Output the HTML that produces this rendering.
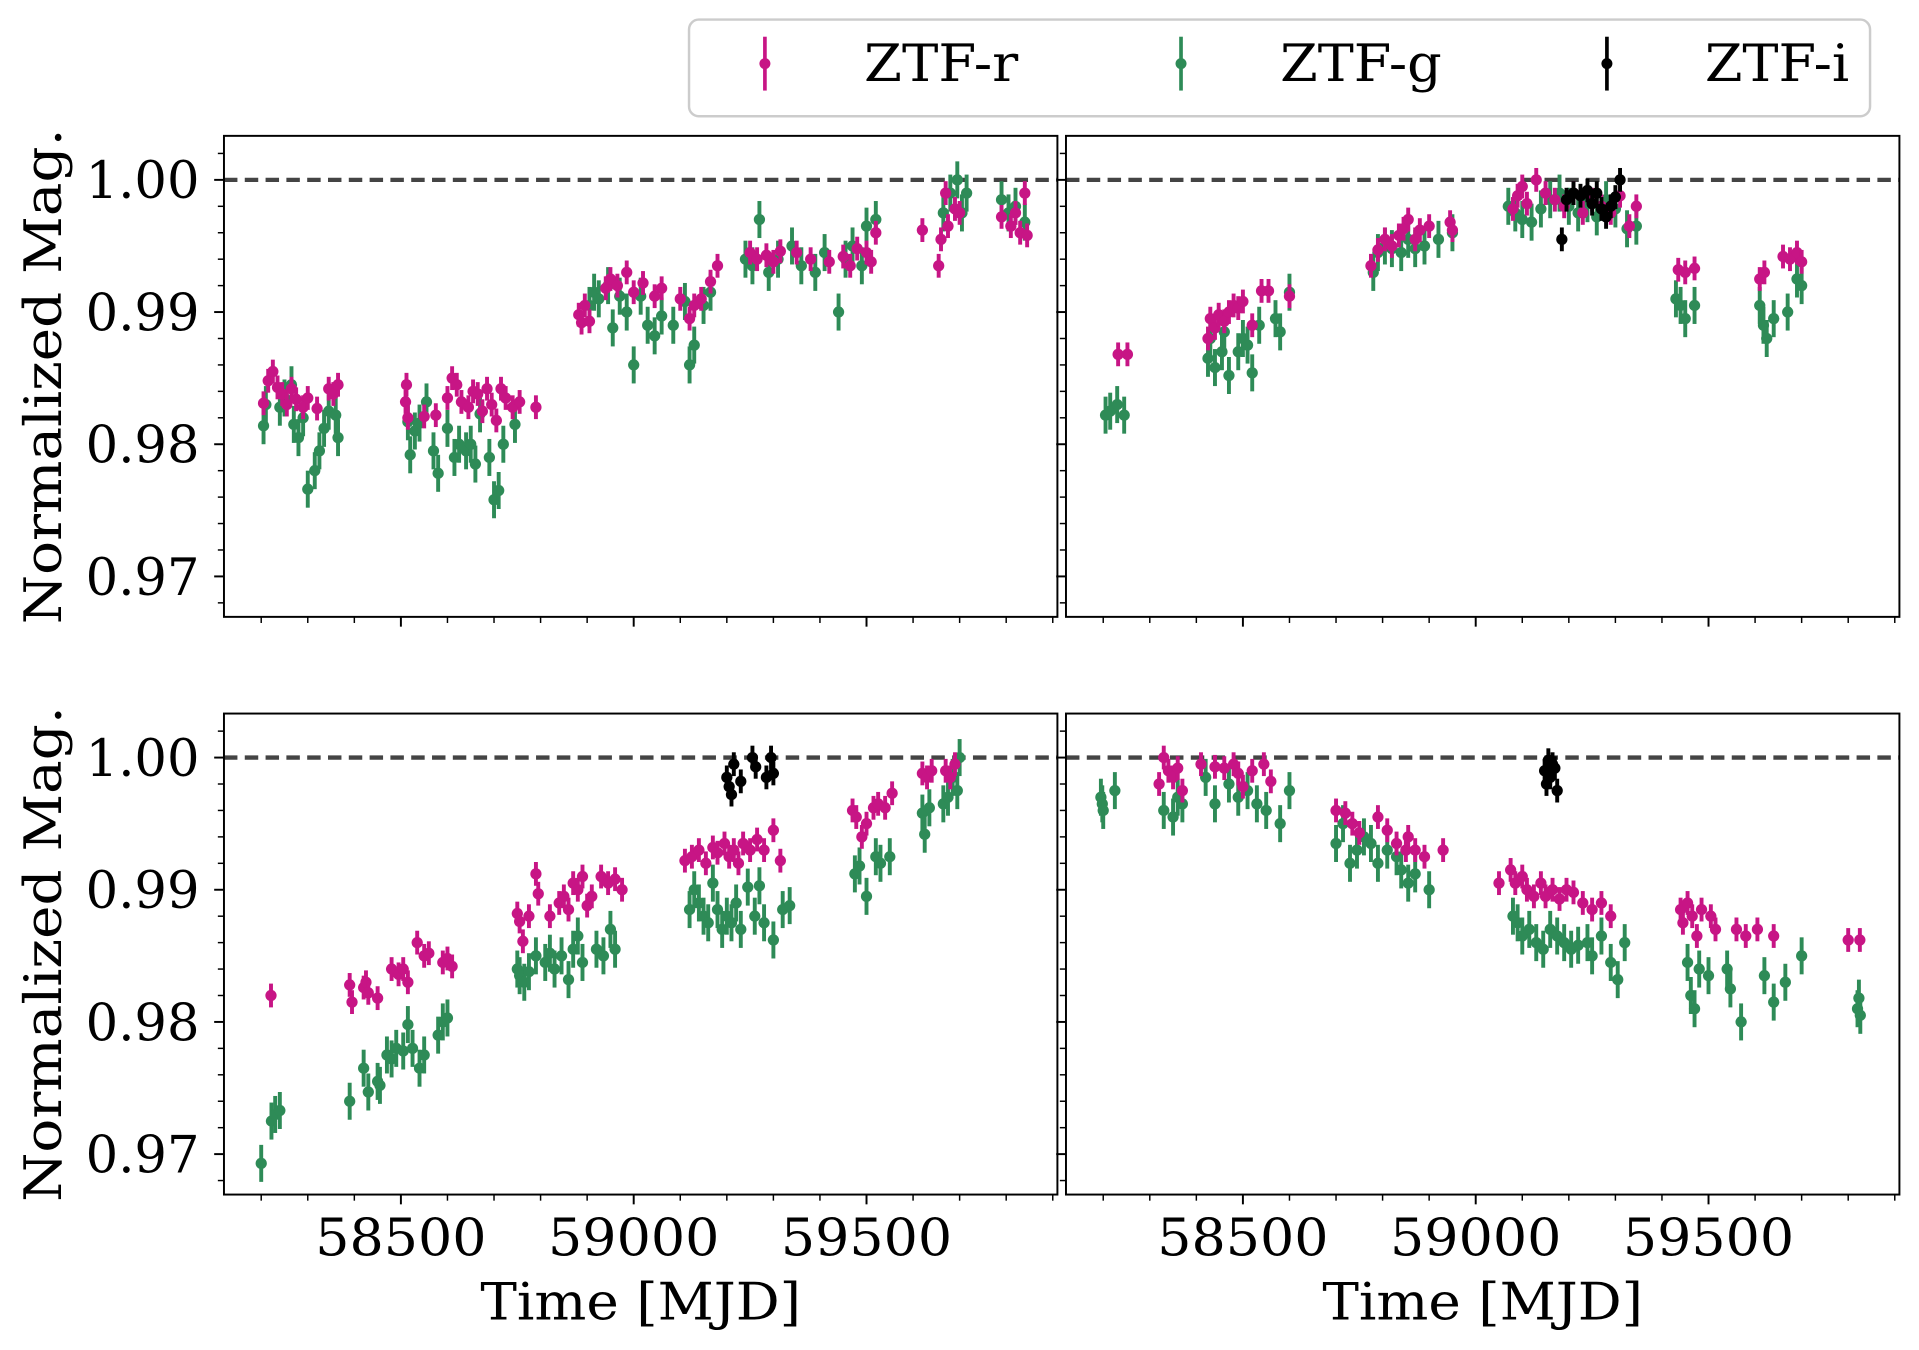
<!DOCTYPE html>
<html><head><meta charset="utf-8"><style>
html,body{margin:0;padding:0;background:#fff;}
svg{display:block;}
text{font-family:"DejaVu Serif","Liberation Serif",serif;fill:#000;}
</style></head><body>
<svg id="fig" width="1919" height="1350" viewBox="0 0 1568 1103" preserveAspectRatio="none" xmlns="http://www.w3.org/2000/svg">
<g id="legend">
<rect x="563" y="16" width="965" height="79" rx="8" fill="#fff" stroke="#cccccc" stroke-width="2"/>
<g>
<line x1="625" y1="30" x2="625" y2="74" stroke="#c71585" stroke-width="3"/><circle cx="625" cy="52" r="4.5" fill="#c71585"/>
<text x="706" y="66" font-size="42" textLength="126" lengthAdjust="spacingAndGlyphs">ZTF-r</text></g>
<g>
<line x1="965" y1="30" x2="965" y2="74" stroke="#2e8b57" stroke-width="3"/><circle cx="965" cy="52" r="4.5" fill="#2e8b57"/>
<text x="1046" y="66" font-size="42" textLength="132" lengthAdjust="spacingAndGlyphs">ZTF-g</text></g>
<g>
<line x1="1313" y1="30" x2="1313" y2="74" stroke="#000" stroke-width="3"/><circle cx="1313" cy="52" r="4.5" fill="#000"/>
<text x="1393" y="66" font-size="42" textLength="118" lengthAdjust="spacingAndGlyphs">ZTF-i</text></g>
</g>
</svg>
<script>
// ---- data (MJD, normalized magnitude) ----
const aR=[[58205,0.9831],[58215,0.9848],[58225,0.9855],[58235,0.9843],[58245,0.9838],[58255,0.9830],[58265,0.9842],[58275,0.9834],[58290,0.9828],[58300,0.9835],[58320,0.9827],[58345,0.9842],[58355,0.9838],[58365,0.9845],
[58510,0.9832],[58512,0.9845],[58515,0.9820],[58550,0.9821],[58575,0.9822],[58600,0.9835],[58610,0.9850],[58620,0.9845],[58630,0.9832],[58645,0.9828],[58655,0.9840],[58665,0.9838],[58675,0.9825],[58685,0.9842],[58695,0.9830],[58705,0.9818],[58715,0.9842],[58725,0.9835],[58740,0.9828],[58755,0.9832],[58790,0.9828],
[58882,0.9898],[58888,0.9892],[58895,0.9905],[58905,0.9893],[58940,0.9918],[58950,0.9925],[58965,0.9920],[58985,0.9930],[59000,0.9915],[59020,0.9922],[59045,0.9912],[59060,0.9918],[59100,0.9910],[59120,0.9895],[59130,0.9905],[59145,0.9910],[59165,0.9923],[59180,0.9935],
[59250,0.9945],[59265,0.9940],[59285,0.9943],[59300,0.9938],[59315,0.9946],[59350,0.9945],[59380,0.9940],[59420,0.9938],[59450,0.9942],[59465,0.9935],[59480,0.9948],[59500,0.9945],[59510,0.9938],[59520,0.9960],
[59620,0.9962],[59655,0.9935],[59660,0.9955],[59670,0.9990],[59675,0.9965],[59690,0.9978],[59700,0.9975],[59790,0.9972],[59810,0.9965],[59820,0.9975],[59830,0.9960],[59840,0.9990],[59845,0.9958]];
const aG=[[58205,0.9814],[58210,0.9830],[58240,0.9828],[58250,0.9835],[58265,0.9845],[58270,0.9815],[58280,0.9805],[58290,0.9820],[58300,0.9766],[58315,0.9780],[58325,0.9795],[58335,0.9812],[58345,0.9825],[58360,0.9822],[58365,0.9805],
[58515,0.9817],[58520,0.9792],[58530,0.9810],[58540,0.9816],[58555,0.9832],[58570,0.9795],[58580,0.9778],[58600,0.9812],[58615,0.9790],[58625,0.9800],[58640,0.9795],[58650,0.9800],[58660,0.9785],[58670,0.9823],[58690,0.9790],[58700,0.9758],[58710,0.9765],[58720,0.9800],[58745,0.9815],
[58905,0.9905],[58915,0.9915],[58925,0.9910],[58945,0.9920],[58955,0.9888],[58970,0.9912],[58985,0.9900],[59000,0.9860],[59015,0.9912],[59030,0.9890],[59045,0.9882],[59060,0.9897],[59085,0.9890],[59110,0.9908],[59120,0.9860],[59130,0.9875],[59150,0.9905],[59165,0.9915],
[59240,0.9940],[59255,0.9935],[59270,0.9970],[59290,0.9930],[59310,0.9940],[59340,0.9950],[59360,0.9935],[59390,0.9930],[59410,0.9945],[59440,0.9900],[59455,0.9940],[59470,0.9950],[59490,0.9935],[59500,0.9965],[59520,0.9970],
[59665,0.9975],[59680,0.9990],[59695,1.0000],[59705,0.9975],[59715,0.9990],[59790,0.9985],[59805,0.9975],[59820,0.9980],[59840,0.9968]];
const aI=[];
const bR=[[58232,0.9868],[58252,0.9868],[58425,0.9880],[58430,0.9895],[58440,0.9888],[58448,0.9898],[58460,0.9893],[58470,0.9900],[58480,0.9905],[58490,0.9903],[58500,0.9908],[58520,0.9890],[58540,0.9916],[58555,0.9916],[58600,0.9912],
[58775,0.9935],[58790,0.9947],[58805,0.9955],[58820,0.9950],[58835,0.9958],[58845,0.9963],[58855,0.9970],[58870,0.9955],[58880,0.9962],[58900,0.9965],[58945,0.9968],[58950,0.9962],
[59080,0.9978],[59090,0.9988],[59100,0.9995],[59110,0.9982],[59130,1.0000],[59150,0.9990],[59170,0.9985],[59190,0.9980],[59210,0.9990],[59230,0.9975],[59250,0.9985],[59270,0.9980],[59290,0.9975],[59310,0.9988],[59330,0.9965],[59345,0.9980],
[59435,0.9932],[59450,0.9930],[59470,0.9933],[59610,0.9925],[59620,0.9930],[59660,0.9942],[59675,0.9940],[59690,0.9945],[59700,0.9938]];
const bG=[[58205,0.9822],[58215,0.9825],[58230,0.9830],[58245,0.9822],[58425,0.9865],[58430,0.9880],[58440,0.9858],[58455,0.9870],[58460,0.9885],[58470,0.9852],[58490,0.9870],[58500,0.9880],[58510,0.9875],[58520,0.9854],[58535,0.9890],[58570,0.9895],[58580,0.9885],[58600,0.9915],
[58780,0.9930],[58790,0.9945],[58805,0.9950],[58820,0.9948],[58840,0.9945],[58855,0.9955],[58870,0.9948],[58890,0.9950],[58920,0.9955],[58950,0.9960],
[59070,0.9980],[59085,0.9975],[59100,0.9970],[59120,0.9968],[59140,0.9978],[59160,0.9985],[59180,0.9990],[59200,0.9980],[59220,0.9975],[59240,0.9982],[59260,0.9972],[59280,0.9985],[59300,0.9978],[59325,0.9963],[59345,0.9965],
[59430,0.9910],[59440,0.9905],[59450,0.9895],[59470,0.9905],[59610,0.9905],[59618,0.9890],[59625,0.9880],[59640,0.9895],[59670,0.9900],[59690,0.9925],[59700,0.9920]];
const bI=[[59185,0.9955],[59195,0.9985],[59210,0.9990],[59225,0.9988],[59240,0.9992],[59250,0.9982],[59260,0.9990],[59270,0.9978],[59280,0.9972],[59290,0.9980],[59300,0.9987],[59310,1.0000]];
const cR=[[58221,0.9820],[58390,0.9828],[58395,0.9815],[58420,0.9826],[58425,0.9830],[58430,0.9822],[58450,0.9818],[58480,0.9840],[58495,0.9836],[58505,0.9840],[58515,0.9830],[58535,0.9860],[58550,0.9850],[58560,0.9852],[58590,0.9845],[58600,0.9848],[58610,0.9842],
[58750,0.9882],[58755,0.9876],[58762,0.9861],[58775,0.9880],[58790,0.9912],[58795,0.9897],[58820,0.9880],[58840,0.9890],[58850,0.9895],[58860,0.9885],[58870,0.9905],[58880,0.9900],[58890,0.9910],[58900,0.9888],[58910,0.9895],[58930,0.9910],[58945,0.9905],[58960,0.9908],[58975,0.9900],
[59110,0.9922],[59125,0.9925],[59140,0.9930],[59155,0.9920],[59170,0.9932],[59180,0.9928],[59195,0.9935],[59205,0.9925],[59215,0.9930],[59225,0.9920],[59235,0.9935],[59250,0.9930],[59265,0.9938],[59280,0.9930],[59300,0.9945],[59315,0.9922],
[59470,0.9960],[59478,0.9955],[59490,0.9940],[59500,0.9950],[59515,0.9962],[59525,0.9965],[59540,0.9962],[59555,0.9973],[59620,0.9988],[59630,0.9985],[59640,0.9990],[59670,0.9990],[59680,0.9985],[59690,0.9995]];
const cG=[[58200,0.9693],[58222,0.9725],[58230,0.9730],[58240,0.9733],[58390,0.9740],[58420,0.9765],[58430,0.9747],[58450,0.9755],[58455,0.9752],[58470,0.9775],[58480,0.9772],[58490,0.9780],[58505,0.9778],[58515,0.9798],[58525,0.9780],[58540,0.9765],[58550,0.9775],[58580,0.9790],[58590,0.9800],[58600,0.9803],
[58750,0.9840],[58755,0.9835],[58765,0.9830],[58775,0.9838],[58790,0.9850],[58810,0.9845],[58820,0.9852],[58830,0.9840],[58845,0.9850],[58860,0.9832],[58870,0.9855],[58880,0.9865],[58890,0.9845],[58920,0.9855],[58935,0.9850],[58950,0.9870],[58960,0.9855],
[59120,0.9885],[59130,0.9900],[59140,0.9890],[59150,0.9880],[59160,0.9875],[59170,0.9905],[59180,0.9885],[59190,0.9870],[59200,0.9880],[59210,0.9875],[59220,0.9890],[59230,0.9870],[59245,0.9902],[59260,0.9880],[59270,0.9903],[59280,0.9875],[59300,0.9862],[59320,0.9885],[59335,0.9888],
[59475,0.9912],[59485,0.9918],[59500,0.9895],[59520,0.9925],[59530,0.9920],[59550,0.9925],[59620,0.9958],[59625,0.9942],[59635,0.9962],[59665,0.9965],[59675,0.9970],[59685,0.9985],[59695,0.9975],[59700,1.0000]];
const cI=[[59200,0.9985],[59205,0.9978],[59210,0.9972],[59215,0.9995],[59230,0.9982],[59255,1.0000],[59262,0.9993],[59285,0.9985],[59295,1.0000],[59300,0.9988]];
const dR=[[58320,0.9980],[58330,1.0000],[58340,0.9990],[58350,0.9985],[58360,0.9992],[58370,0.9975],[58410,0.9995],[58440,0.9993],[58460,0.9992],[58480,0.9995],[58490,0.9988],[58500,0.9978],[58520,0.9990],[58545,0.9995],[58560,0.9982],
[58700,0.9960],[58720,0.9958],[58735,0.9950],[58750,0.9943],[58790,0.9955],[58810,0.9945],[58830,0.9935],[58850,0.9930],[58855,0.9940],[58870,0.9930],[58890,0.9925],[58930,0.9930],
[59050,0.9905],[59075,0.9915],[59085,0.9905],[59100,0.9910],[59110,0.9900],[59125,0.9895],[59140,0.9905],[59150,0.9895],[59165,0.9900],[59180,0.9893],[59195,0.9900],[59210,0.9898],[59230,0.9890],[59250,0.9885],[59270,0.9890],[59290,0.9880],
[59440,0.9885],[59445,0.9875],[59455,0.9890],[59465,0.9880],[59475,0.9865],[59485,0.9885],[59505,0.9880],[59515,0.9870],[59560,0.9870],[59580,0.9865],[59605,0.9870],[59640,0.9865],[59800,0.9862],[59825,0.9862]];
const dG=[[58195,0.9970],[58198,0.9965],[58200,0.9960],[58225,0.9975],[58330,0.9960],[58350,0.9955],[58360,0.9970],[58370,0.9965],[58420,0.9985],[58440,0.9965],[58470,0.9980],[58490,0.9970],[58510,0.9975],[58530,0.9965],[58550,0.9960],[58580,0.9950],[58600,0.9975],
[58700,0.9935],[58715,0.9950],[58730,0.9920],[58745,0.9930],[58760,0.9940],[58775,0.9935],[58790,0.9920],[58810,0.9930],[58830,0.9925],[58840,0.9915],[58855,0.9905],[58870,0.9912],[58900,0.9900],
[59080,0.9880],[59090,0.9875],[59100,0.9865],[59115,0.9870],[59130,0.9860],[59145,0.9855],[59160,0.9870],[59175,0.9865],[59190,0.9860],[59205,0.9855],[59220,0.9858],[59240,0.9860],[59250,0.9850],[59270,0.9865],[59290,0.9845],[59305,0.9832],[59320,0.9860],
[59455,0.9845],[59462,0.9820],[59470,0.9810],[59480,0.9840],[59500,0.9835],[59540,0.9840],[59547,0.9825],[59570,0.9800],[59620,0.9835],[59640,0.9815],[59665,0.9830],[59700,0.9850],[59820,0.9810],[59823,0.9818],[59826,0.9805]];
const dI=[[59148,0.9990],[59152,0.9980],[59156,0.9998],[59160,0.9985],[59165,0.9995],[59170,0.9992],[59175,0.9975]];
const xTicks=[58500,59000,59500];
const yTicks=[0.97,0.98,0.99,1.00];
const yTickLabels=["0.97","0.98","0.99","1.00"];
const errR=0.0009, errG=0.0014, errI=0.0009;

const NS="http://www.w3.org/2000/svg";
const svg=document.getElementById('fig');
function mk(tag,attrs,parent){const e=document.createElementNS(NS,tag);for(const k in attrs)e.setAttribute(k,attrs[k]);(parent||svg).appendChild(e);return e;}
const X0=58120,X1=59910,Y0=0.96694,Y1=1.00333;
const panels=[
 {name:'top-left',x0:183,x1:864,y0:111,y1:504,r:aR,g:aG,i:aI,ylab:true,xlab:false},
 {name:'top-right',x0:871,x1:1552,y0:111,y1:504,r:bR,g:bG,i:bI,ylab:false,xlab:false},
 {name:'bottom-left',x0:183,x1:864,y0:583,y1:976,r:cR,g:cG,i:cI,ylab:true,xlab:true},
 {name:'bottom-right',x0:871,x1:1552,y0:583,y1:976,r:dR,g:dG,i:dI,ylab:false,xlab:true}];
panels.forEach(p=>{
 const sx=v=>p.x0+(v-X0)/(X1-X0)*(p.x1-p.x0);
 const sy=v=>p.y1-(v-Y0)/(Y1-Y0)*(p.y1-p.y0);
 const g=mk('g',{});
 
 
 for(let m=58200;m<=59900;m+=100){const x=sx(m);const major=(m%500===0);
  const t=mk('line',{x1:x,x2:x,y1:p.y1,y2:p.y1+(major?8:5),stroke:'#000','stroke-width':major?1.6:1.2},g);
  
  }
 for(let k=0;k<=18;k++){const v=0.968+k*0.002;const y=sy(v);if(y<p.y0||y>p.y1)continue;const major=(k%5===1);
  const t=mk('line',{x1:p.x0,x2:p.x0-(major?8:5),y1:y,y2:y,stroke:'#000','stroke-width':major?1.6:1.2},g);
  
  }
 if(p.xlab){xTicks.forEach(v=>{const t=mk('text',{x:sx(v),y:p.y1+50,'font-size':42,'text-anchor':'middle',textLength:140,lengthAdjust:'spacingAndGlyphs'},g);t.textContent=String(v);
  
  });
  const xl=mk('text',{x:(p.x0+p.x1)/2,y:p.y1+102,'font-size':42,'text-anchor':'middle',textLength:262,lengthAdjust:'spacingAndGlyphs'},g);xl.textContent='Time [MJD]';
  
  }
 if(p.ylab){yTicks.forEach((v,j)=>{const t=mk('text',{x:p.x0-20,y:sy(v)+15,'font-size':42,'text-anchor':'end',textLength:93,lengthAdjust:'spacingAndGlyphs'},g);t.textContent=yTickLabels[j];
  
  });
  const cy=(p.y0+p.y1)/2;const yl=mk('text',{x:0,y:0,'font-size':42,'text-anchor':'middle',textLength:405,lengthAdjust:'spacingAndGlyphs',transform:`translate(50,${cy}) rotate(-90)`},g);yl.textContent='Normalized Mag.';
  
  }
 const dl=mk('line',{x1:p.x0,x2:p.x1,y1:sy(1),y2:sy(1),stroke:'#444','stroke-width':3.5,'stroke-dasharray':'11,6'},g);
 
 
 const series=[['ztf-g',p.g,'#2e8b57',errG],['ztf-r',p.r,'#c71585',errR],['ztf-i',p.i,'#000',errI]];
 series.forEach(([nm,arr,col,err])=>{arr.forEach(([t,m])=>{const pt=mk('g',{},g);
  
  
  mk('line',{x1:sx(t),x2:sx(t),y1:sy(m+err),y2:sy(m-err),stroke:col,'stroke-width':3.2},pt);
  mk('circle',{cx:sx(t),cy:sy(m),r:4.6,fill:col},pt);});});
 const fr=mk('rect',{x:p.x0,y:p.y0,width:p.x1-p.x0,height:p.y1-p.y0,fill:'none',stroke:'#000','stroke-width':1.6},g);
 
 
});
</script>
</body></html>
